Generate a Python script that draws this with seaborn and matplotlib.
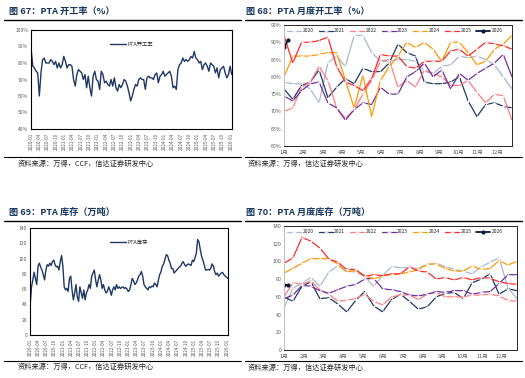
import matplotlib
matplotlib.use("Agg")
import matplotlib.pyplot as plt
import seaborn as sns
import pandas as pd
import numpy as np

sns.set_style("white")
plt.rcParams['font.family'] = ['Noto Sans CJK SC', 'DejaVu Sans']
plt.rcParams['axes.unicode_minus'] = False

NAVY = '#1F3864'
TITLE_COLOR = '#17375E'
TICK_COLOR = '#595959'

# ---------------- datos ----------------
# PTA 开工率 semanal (%), 2020-01 .. 2026-01
rate_values = [88, 78, 77, 75, 74, 60, 74, 82, 83, 80, 80, 80, 82, 81, 79, 81, 77, 80, 77, 79,
               84, 81, 77, 79, 79, 78, 70, 66, 73, 76, 75, 74, 70, 73, 65, 72, 65, 60, 72, 75,
               70, 69, 64, 75, 73, 68, 69, 67, 66, 70, 66, 71, 65, 63, 67, 65, 67, 70, 69, 66,
               62, 57, 60, 64, 67, 66, 70, 71, 70, 70, 64, 71, 72, 71, 71, 70, 73, 74, 68, 72,
               73, 75, 72, 73, 74, 75, 72, 65, 66, 64, 76, 79, 80, 83, 81, 82, 81, 82, 84, 83,
               87, 83, 82, 80, 81, 76, 79, 80, 78, 75, 80, 79, 78, 74, 77, 71, 76, 77, 78, 74,
               71, 73, 78, 73]

# PTA 库存 semanal (万吨), 2020-01 .. 2026-01
inv_values = [39, 63, 72, 82, 74, 66, 90, 94, 89, 85, 79, 72, 85, 92, 90, 94, 91, 96, 98, 92,
              89, 90, 85, 96, 104, 90, 63, 59, 61, 57, 74, 77, 59, 46, 55, 66, 50, 44, 63, 55,
              48, 59, 46, 55, 59, 66, 61, 77, 81, 85, 72, 63, 72, 79, 72, 61, 66, 59, 55, 57,
              63, 59, 52, 59, 63, 59, 66, 61, 63, 61, 62, 63, 61, 62, 60, 57, 59, 66, 74, 71,
              66, 68, 72, 77, 79, 83, 77, 66, 63, 61, 59, 63, 62, 64, 63, 68, 66, 63, 72, 79,
              83, 90, 93, 99, 105, 104, 98, 94, 87, 87, 81, 83, 85, 87, 89, 90, 94, 96, 92, 90,
              92, 93, 92, 91, 98, 96, 101, 107, 125, 122, 112, 103, 98, 92, 85, 85, 86, 85, 87, 93,
              90, 83, 79, 81, 77, 79, 81, 82, 79, 77, 76, 74]

series_start = '2020-01-03'
series_end = '2026-01-09'
quarter_labels = [f'{y}-{m:02d}' for y in range(2020, 2026) for m in (1, 4, 7, 10)] + ['2026-01']

# datos por año (semana del año, cada 2 semanas)
weeks = list(range(0, 53, 2))
weeks_2026 = [0, 1]
years = ['2020', '2021', '2022', '2023', '2024', '2025']
year_colors = ['#A9B8D0', '#1F3864', '#FF7C80', '#7030A0', '#FF9900', '#FF2A2A']
color_2026 = '#0B1A3A'
month_labels = [f'{m}月' for m in range(1, 13)]

rate_2020 = [78.5, 78, 78, 76.5, 72.5, 84, 86, 83, 92, 92, 87, 84.5, 84.5, 85, 85, 84.5, 81.5, 81,
             83, 83.5, 86, 85.5, 86, 85, 83.5, 80, 76.5]
rate_2021 = [76.5, 73.5, 77.5, 78.5, 82, 74, 77, 79.5, 78, 82.5, 81.5, 81.5, 84, 89.5, 87, 86, 78.5,
             78, 78, 78.5, 80, 73, 68.5, 72, 72.5, 71.5, 71]
rate_2022 = [70, 71, 77, 78.5, 83, 79, 71, 68, 70.5, 75, 79, 84.5, 85, 77, 79, 77, 82, 81, 80,
             77.5, 77.5, 79, 75.5, 72.5, 75, 74.5, 67.5]
rate_2023 = [74.5, 73, 76, 78, 78.5, 72.5, 71, 67.5, 70.5, 72.5, 72, 77, 75, 75, 80, 81.5, 84, 80,
             82, 76.5, 81, 79, 81, 82.5, 84, 86.5, 80]
rate_2024 = [80, 86, 86, 86, 86.5, 87, 87, 79, 71, 80.5, 68.5, 79, 83, 86, 90, 88.5, 90, 88,
             84.5, 90, 90, 87, 83.5, 84.5, 88, 89.5, 92]
rate_2025 = [92, 84, 90, 90, 90.5, 91.5, 83, 78.5, 77.5, 76, 79.5, 86.5, 86, 86, 83, 82.5, 84.5,
             84.5, 84.5, 87.5, 88, 86, 88, 90, 89.5, 89, 88]
rate_2026 = [88.5, 90.8]

inv_2020 = [48, 70, 75, 82, 72, 88, 95, 89, 88, 83, 72, 84, 94, 93, 93, 92, 96, 98, 94, 91, 89,
            86, 94, 99, 104, 70, 58]
inv_2021 = [60, 55, 72, 77, 58, 59, 52, 43, 56, 66, 50, 43, 57, 63, 55, 46, 49, 60, 64, 65, 58,
            76, 80, 86, 63, 69, 67]
inv_2022 = [60, 76, 74, 78, 68, 63, 55, 56, 58, 63, 55, 51, 60, 62, 62, 57, 63, 65, 60, 60, 60,
            62, 62, 63, 61, 56, 55]
inv_2023 = [58, 62, 73, 72, 67, 64, 68, 72, 74, 80, 81, 69, 68, 66, 62, 61, 63, 66, 65, 67, 67,
            63, 65, 66, 75, 85, 85]
inv_2024 = [87, 92, 98, 103, 103, 103, 97, 88, 90, 84, 80, 84, 85, 86, 88, 91, 97, 97, 92, 89,
            89, 95, 91, 92, 101, 96, 100]
inv_2025 = [98, 104, 127, 123, 115, 103, 99, 91, 91, 83, 85, 84, 86, 86, 94, 89, 88, 80, 82, 79,
            82, 79, 82, 81, 77, 75, 74]
inv_2026 = [73, 73]

rate_years = [rate_2020, rate_2021, rate_2022, rate_2023, rate_2024, rate_2025]
inv_years = [inv_2020, inv_2021, inv_2022, inv_2023, inv_2024, inv_2025]

month_pos = [m * 4.42 for m in range(12)]

# ---------------- figura ----------------
W, H = 525, 378
fig = plt.figure(figsize=(W / 100, H / 100), dpi=100)


def px_axes(left, top, right, bottom):
    return fig.add_axes([left / W, 1 - bottom / H, (right - left) / W, (bottom - top) / H])


def fig_text(x, y, s, **kw):
    fig.text(x / W, 1 - y / H, s, **kw)


def fig_rule(x0, x1, y, lw=1.0):
    fig.add_artist(plt.Line2D([x0 / W, x1 / W], [1 - y / H, 1 - y / H], color='black', lw=lw))


def estilo_serie(ax, ylim, yticks, ylabels):
    ax.set_ylim(*ylim)
    ax.set_yticks(yticks)
    ax.set_yticklabels(ylabels)
    ax.set_xlim(pd.Timestamp('2020-01-01'), pd.Timestamp('2026-01-12'))
    ax.set_xticks(pd.to_datetime(quarter_labels))
    ax.set_xticklabels(quarter_labels, rotation=90)
    ax.tick_params(axis='x', labelsize=3.3, colors=TICK_COLOR, length=1.5, width=0.5, pad=1.5)
    ax.tick_params(axis='y', labelsize=3.5, colors=TICK_COLOR, length=0, pad=2)
    ax.set_xlabel('')
    ax.set_ylabel('')
    for sp in ax.spines.values():
        sp.set_color('black')
        sp.set_linewidth(0.8)
    ax.legend(loc='upper center', bbox_to_anchor=(0.5, 0.93), fontsize=3.8, frameon=False,
              handlelength=3.0, handletextpad=0.2)


def estilo_anual(ax, ylim, yticks, ylabels):
    ax.set_ylim(*ylim)
    ax.set_yticks(yticks)
    ax.set_yticklabels(ylabels)
    ax.set_xlim(0, 52)
    ax.set_xticks(month_pos)
    ax.set_xticklabels(month_labels)
    ax.tick_params(axis='x', labelsize=4, colors=TICK_COLOR, length=0, pad=3)
    ax.tick_params(axis='y', labelsize=3.8, colors=TICK_COLOR, length=0, pad=2)
    ax.set_xlabel('')
    ax.set_ylabel('')
    for sp in ax.spines.values():
        sp.set_color('#262626')
        sp.set_linewidth(0.7)
    ax.spines['left'].set_color('#BFBFBF')
    ax.legend(ncol=7, loc='upper left', bbox_to_anchor=(0.0, 1.0), fontsize=3.6, frameon=False,
              handlelength=2.8, handletextpad=0.3, columnspacing=1.0, borderaxespad=0.25)


# ---- 图67 ----
ax1 = px_axes(31, 30, 232, 129)
df1 = pd.DataFrame({'fecha': pd.date_range(series_start, series_end, periods=len(rate_values)),
                    'valor': rate_values})
sns.lineplot(data=df1, x='fecha', y='valor', ax=ax1, color=NAVY, lw=1.0, label='PTA开工率')
estilo_serie(ax1, (40, 100), range(40, 101, 10), [f'{v}%' for v in range(40, 101, 10)])

# ---- 图69 ----
ax3 = px_axes(30, 228, 228, 335)
df3 = pd.DataFrame({'fecha': pd.date_range(series_start, series_end, periods=len(inv_values)),
                    'valor': inv_values})
sns.lineplot(data=df3, x='fecha', y='valor', ax=ax3, color=NAVY, lw=1.0, label='PTA库存')
estilo_serie(ax3, (0, 140), range(0, 141, 20), [str(v) for v in range(0, 141, 20)])

# ---- 图68 ----
ax2 = px_axes(284, 25, 512, 146)
for yr, vals, col in zip(years, rate_years, year_colors):
    sns.lineplot(x=weeks, y=vals, ax=ax2, color=col, lw=0.9, marker='+', markersize=2.2,
                 markeredgewidth=0.5, label=yr)
sns.lineplot(x=weeks_2026, y=rate_2026, ax=ax2, color=color_2026, lw=1.3, marker='o',
             markersize=3, markeredgewidth=0, label='2026')
estilo_anual(ax2, (60, 95), range(60, 96, 5), [f'{v}%' for v in range(60, 96, 5)])

# ---- 图70 ----
ax4 = px_axes(284, 226, 517, 350)
for yr, vals, col in zip(years, inv_years, year_colors):
    sns.lineplot(x=weeks, y=vals, ax=ax4, color=col, lw=0.9, marker='+', markersize=2.2,
                 markeredgewidth=0.5, label=yr)
sns.lineplot(x=weeks_2026, y=inv_2026, ax=ax4, color=color_2026, lw=1.3, marker='o',
             markersize=3, markeredgewidth=0, label='2026')
estilo_anual(ax4, (0, 140), range(0, 141, 20), [str(v) for v in range(0, 141, 20)])

# ---- títulos, reglas y fuentes ----
title_kw = dict(fontsize=6.6, fontweight='bold', color=TITLE_COLOR, va='center', ha='left')
fig_text(9, 11, '图 67：PTA 开工率（%）', **title_kw)
fig_text(246, 11, '图 68：PTA 月度开工率（%）', **title_kw)
fig_text(9, 212, '图 69：PTA 库存（万吨）', **title_kw)
fig_text(246, 212, '图 70：PTA 月度库存（万吨）', **title_kw)

for y in (20, 221):
    fig_rule(4, 241, y, lw=1.0)
    fig_rule(245, 522, y, lw=1.0)
for y in (157, 361):
    fig_rule(4, 241, y, lw=0.8)
    fig_rule(245, 522, y, lw=0.8)

src_kw = dict(fontsize=5.2, color='#262626', va='center', ha='left', style='italic')
fig_text(18, 164, '资料来源：万得，CCF，信达证券研发中心', **src_kw)
fig_text(248, 164, '资料来源：万得，信达证券研发中心', **src_kw)
fig_text(18, 367, '资料来源：万得，CCF，信达证券研发中心', **src_kw)
fig_text(248, 368, '资料来源：万得，信达证券研发中心', **src_kw)

fig.savefig('out.png', dpi=100)
